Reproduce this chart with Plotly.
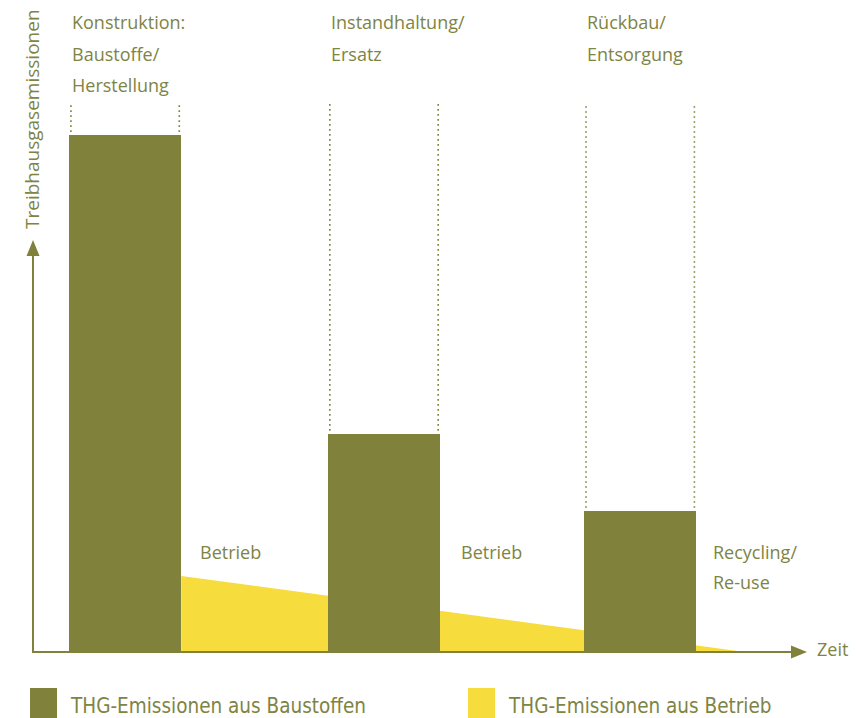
import plotly.graph_objects as go

# ---------------- data ----------------
phases = ["Konstruktion: Baustoffe/ Herstellung", "Instandhaltung/ Ersatz", "Rückbau/ Entsorgung"]
phase_label_lines = [["Konstruktion:", "Baustoffe/", "Herstellung"],
                     ["Instandhaltung/", "Ersatz"],
                     ["Rückbau/", "Entsorgung"]]
bar_start = [4.65, 38.1, 71.2]        # time (relative units, 0..100)
bar_width = [14.5, 14.5, 14.5]
bar_height = [100.0, 42.2, 27.3]      # relative emissions
betrieb_time = [19.15, 92.0]          # operation emissions, declining over time
betrieb_value = [14.7, 0.0]
gap_labels = [["Betrieb"], ["Betrieb"], ["Recycling/", "Re-use"]]
legend_labels = ["THG-Emissionen aus Baustoffen", "THG-Emissionen aus Betrieb"]

OLIVE = "#80813a"
YELLOW = "#f6dc3c"
TEXT = "#7e8444"
OFF = 8                      # page offset of the figure (body margin)
W, H = 864 - OFF, 718 - OFF
X0, XS = 33.0 - OFF, 7.74    # pixel of t=0, pixels per time unit
Y0, YS = 652.0 - OFF, 5.17   # pixel of v=0, pixels per emission unit

xr = [(0 - X0) / XS, (W - X0) / XS]
yr = [(Y0 - H) / YS, (Y0 - 0) / YS]

def px(t):
    return X0 + t * XS

def P(xp):
    # xp given in window pixels
    return (xp - OFF) / W

def Q(yp):
    return 1 - (yp - OFF) / H

fig = go.Figure()

# operation emissions (yellow wedge), drawn below the bars
fig.add_trace(go.Scatter(x=betrieb_time, y=betrieb_value, mode="lines",
                         line=dict(width=0, color=YELLOW), fill="tozeroy",
                         fillcolor=YELLOW, hoverinfo="skip",
                         name=legend_labels[1]))

# material emissions (olive bars), on an overlay axis so they sit on top
centers = [s + w / 2 for s, w in zip(bar_start, bar_width)]
fig.add_trace(go.Bar(x=centers, y=bar_height, width=bar_width,
                     marker=dict(color=OLIVE, line=dict(width=0)),
                     xaxis="x2", yaxis="y2", name=legend_labels[0],
                     hovertext=phases))

shapes = []
annotations = []
top_dots_v = (Y0 - (104 - OFF)) / YS

# dotted guide lines above bars
for s, w, h in zip(bar_start, bar_width, bar_height):
    for xv in (s + 0.25, s + w - 0.25):
        shapes.append(dict(type="line", xref="x", yref="y", x0=xv, x1=xv,
                           y0=h + 0.6, y1=top_dots_v,
                           line=dict(color=OLIVE, width=1.6, dash="1.6px,3.4px")))

# axes with arrows
shapes.append(dict(type="line", xref="paper", yref="paper",
                   x0=P(33), x1=P(33), y0=Q(653), y1=Q(252),
                   line=dict(color=OLIVE, width=2)))
shapes.append(dict(type="path", xref="paper", yref="paper",
                   path=f"M {P(33)} {Q(240)} L {P(26.5)} {Q(256)} L {P(39.5)} {Q(256)} Z",
                   fillcolor=OLIVE, line=dict(width=0)))
shapes.append(dict(type="line", xref="paper", yref="paper",
                   x0=P(32), x1=P(796), y0=Q(652), y1=Q(652),
                   line=dict(color=OLIVE, width=2)))
shapes.append(dict(type="path", xref="paper", yref="paper",
                   path=f"M {P(807)} {Q(652)} L {P(791)} {Q(645.5)} L {P(791)} {Q(658.5)} Z",
                   fillcolor=OLIVE, line=dict(width=0)))

LABEL_FONT = dict(family="Open Sans", size=18, color=TEXT)

# phase labels above bars
line_y = [22, 53.5, 85]
for s, lines in zip(bar_start, phase_label_lines):
    for i, txt in enumerate(lines):
        annotations.append(dict(text=txt, xref="paper", yref="paper",
                                x=P(px(s) + OFF + 1), y=Q(line_y[i]),
                                xanchor="left", yanchor="middle",
                                showarrow=False, font=LABEL_FONT))

# labels in gaps
gap_x = [198, 459, 711]
gap_y = [552, 582]
for gx, lines in zip(gap_x, gap_labels):
    for i, txt in enumerate(lines):
        annotations.append(dict(text=txt, xref="paper", yref="paper",
                                x=P(gx), y=Q(gap_y[i]),
                                xanchor="left", yanchor="middle",
                                showarrow=False, font=LABEL_FONT))

# axis titles
annotations.append(dict(text="Zeit", xref="paper", yref="paper",
                        x=P(815), y=Q(649), xanchor="left", yanchor="middle",
                        showarrow=False, font=LABEL_FONT))
annotations.append(dict(text="Treibhausgasemissionen", xref="paper", yref="paper",
                        x=P(32), y=Q(119), xanchor="center", yanchor="middle",
                        textangle=-90, showarrow=False,
                        font=dict(family="Open Sans", size=19, color=TEXT)))

# legend (manual)
LEG_FONT = dict(family="Liberation Sans Narrow, DejaVu Sans Condensed, sans-serif",
                size=20.5, color=TEXT)
for (sx, tx), col, txt in zip([(30, 68), (468, 506)], [OLIVE, YELLOW], legend_labels):
    shapes.append(dict(type="rect", xref="paper", yref="paper",
                       x0=P(sx), x1=P(sx + 27), y0=Q(688), y1=Q(722),
                       fillcolor=col, line=dict(width=0)))
    annotations.append(dict(text=txt, xref="paper", yref="paper",
                            x=P(tx), y=Q(706), xanchor="left", yanchor="middle",
                            showarrow=False, font=LEG_FONT))

axis_common = dict(visible=False, showgrid=False, zeroline=False, fixedrange=True)
fig.update_layout(
    width=W, height=H,
    margin=dict(l=0, r=0, t=0, b=0),
    paper_bgcolor="white", plot_bgcolor="white",
    showlegend=False,
    xaxis=dict(range=xr, **axis_common),
    yaxis=dict(range=yr, **axis_common),
    xaxis2=dict(range=xr, overlaying="x", **axis_common),
    yaxis2=dict(range=yr, overlaying="y", **axis_common),
    shapes=shapes,
    annotations=annotations,
    bargap=0,
)

fig.write_html("out.html")
